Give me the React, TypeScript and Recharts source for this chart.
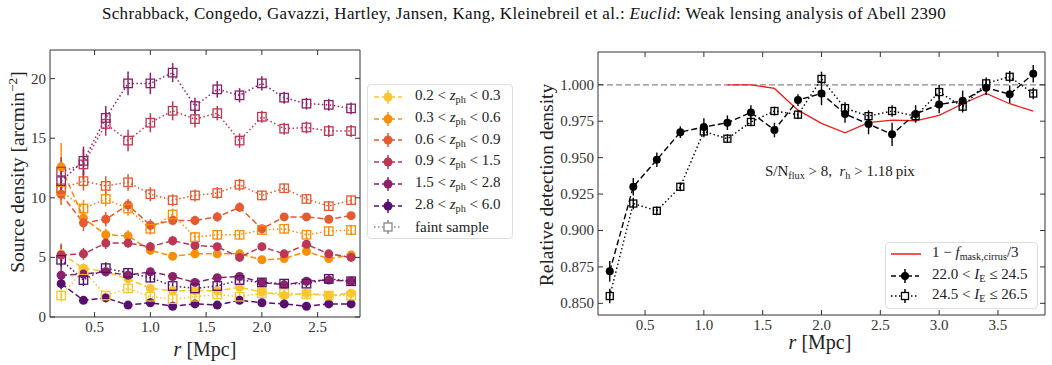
import React from "react";
import { ComposedChart, Line, XAxis, YAxis, ErrorBar, ReferenceLine } from "recharts";

const FONT = "'Liberation Serif', 'DejaVu Serif', serif";
const AXIS = "#333";

// ---- left panel: source density vs radius ----
const rLeft = [0.2, 0.4, 0.6, 0.8, 1.0, 1.2, 1.4, 1.6, 1.8, 2.0, 2.2, 2.4, 2.6, 2.8];
const binEdges = [["0.2", "0.3"], ["0.3", "0.6"], ["0.6", "0.9"], ["0.9", "1.5"], ["1.5", "2.8"], ["2.8", "6.0"]];
const binColors = ["#f9c62f", "#f98e09", "#e45a31", "#bc3754", "#8a226a", "#57106e"];

const bright02 = [5.3, 4.1, 3.8, 3.2, 2.4, 2.2, 2.2, 2.2, 2.5, 2.1, 1.8, 2.0, 1.8, 2.0];
const bright03 = [12.6, 8.3, 6.9, 6.8, 5.6, 5.1, 5.3, 5.3, 5.3, 4.8, 4.9, 5.5, 4.9, 5.2];
const bright06 = [10.3, 7.9, 8.2, 9.4, 7.7, 8.1, 8.1, 8.4, 9.2, 7.4, 8.4, 8.4, 8.2, 8.5];
const bright09 = [5.2, 5.3, 6.2, 6.2, 5.9, 6.4, 6.0, 5.9, 5.0, 5.9, 5.3, 6.1, 5.3, 5.0];
const bright15 = [3.5, 3.6, 3.8, 3.5, 3.8, 3.4, 2.9, 3.3, 3.4, 2.9, 2.7, 3.0, 3.1, 3.0];
const bright28 = [2.8, 1.4, 1.6, 1.0, 1.2, 0.9, 1.1, 1.0, 1.4, 1.2, 1.1, 0.9, 1.1, 1.1];

const brightErr02 = [0.9, 0.4, 0.3, 0.3, 0.2, 0.2, 0.2, 0.2, 0.2, 0.2, 0.2, 0.2, 0.2, 0.2];
const brightErr03 = [2.0, 0.6, 0.5, 0.5, 0.4, 0.3, 0.3, 0.3, 0.3, 0.3, 0.3, 0.3, 0.3, 0.3];
const brightErr06 = [0.9, 0.7, 0.6, 0.5, 0.5, 0.4, 0.4, 0.4, 0.4, 0.3, 0.3, 0.3, 0.3, 0.3];
const brightErr09 = [0.9, 0.5, 0.5, 0.4, 0.4, 0.4, 0.3, 0.3, 0.3, 0.3, 0.3, 0.3, 0.3, 0.3];
const brightErr15 = [0.6, 0.4, 0.4, 0.3, 0.3, 0.3, 0.2, 0.2, 0.2, 0.2, 0.2, 0.2, 0.2, 0.2];
const brightErr28 = [0.5, 0.3, 0.2, 0.2, 0.2, 0.1, 0.1, 0.1, 0.1, 0.1, 0.1, 0.1, 0.1, 0.1];

const faint02 = [1.8, 3.9, 1.8, 2.4, 1.7, 1.5, 1.7, 1.9, 1.7, 2.0, 2.0, 1.9, 1.8, 1.8];
const faint03 = [10.6, 9.1, 9.9, 9.1, 7.4, 8.6, 6.7, 6.9, 6.9, 7.3, 7.4, 6.9, 7.2, 7.3];
const faint06 = [10.8, 11.4, 11.0, 11.3, 10.3, 9.8, 10.2, 10.4, 11.1, 10.2, 10.8, 9.9, 9.3, 9.8];
const faint09 = [12.2, 12.8, 16.2, 14.8, 16.3, 17.3, 16.6, 17.1, 14.8, 16.8, 15.8, 15.9, 15.6, 15.6];
const faint15 = [11.4, 13.1, 16.7, 19.6, 19.6, 20.5, 17.7, 19.1, 18.6, 19.6, 18.4, 17.9, 17.8, 17.5];
const faint28 = [4.8, 3.1, 4.1, 3.7, 3.3, 2.6, 2.4, 2.6, 3.1, 2.9, 2.8, 2.8, 3.2, 3.0];

const faintErr02 = [0.5, 0.4, 0.3, 0.4, 0.3, 0.3, 0.3, 0.3, 0.3, 0.3, 0.3, 0.3, 0.3, 0.3];
const faintErr03 = [1.0, 0.7, 0.6, 0.6, 0.5, 0.5, 0.4, 0.4, 0.4, 0.4, 0.4, 0.4, 0.4, 0.4];
const faintErr06 = [1.0, 0.8, 0.8, 0.7, 0.6, 0.5, 0.5, 0.5, 0.5, 0.4, 0.4, 0.4, 0.4, 0.4];
const faintErr09 = [1.2, 1.3, 1.0, 0.9, 0.8, 0.8, 0.7, 0.6, 0.6, 0.5, 0.5, 0.5, 0.5, 0.5];
const faintErr15 = [1.2, 1.2, 1.0, 1.0, 0.9, 0.8, 0.7, 0.7, 0.6, 0.6, 0.5, 0.5, 0.5, 0.5];
const faintErr28 = [0.7, 0.5, 0.5, 0.4, 0.4, 0.3, 0.3, 0.3, 0.3, 0.3, 0.3, 0.3, 0.3, 0.3];

const leftYTicks = [0, 5, 10, 15, 20];
const leftXTicks = [0.5, 1.0, 1.5, 2.0, 2.5];

// ---- right panel: relative detection density ----
const rRight = [0.2, 0.4, 0.6, 0.8, 1.0, 1.2, 1.4, 1.6, 1.8, 2.0, 2.2, 2.4, 2.6, 2.8, 3.0, 3.2, 3.4, 3.6, 3.8];
const detBright = [0.872, 0.930, 0.9485, 0.9675, 0.971, 0.974, 0.981, 0.969, 0.9895, 0.994, 0.980, 0.973, 0.966, 0.980, 0.9865, 0.989, 0.998, 0.9935, 1.0075];
const detBrightErr = [0.007, 0.006, 0.005, 0.004, 0.006, 0.005, 0.005, 0.005, 0.004, 0.008, 0.006, 0.007, 0.008, 0.006, 0.006, 0.007, 0.005, 0.006, 0.006];
const detFaint = [0.855, 0.9185, 0.9135, 0.930, 0.968, 0.963, 0.9745, 0.982, 0.9795, 1.004, 0.984, 0.9785, 0.982, 0.9785, 0.995, 0.985, 1.001, 1.0055, 0.994];
const detFaintErr = [0.005, 0.004, 0.003, 0.003, 0.004, 0.003, 0.003, 0.003, 0.003, 0.005, 0.004, 0.004, 0.004, 0.004, 0.005, 0.004, 0.004, 0.004, 0.004];
const maskCurve = [null, null, null, null, null, 1.0, 1.0, 0.9975, 0.9826, 0.9735, 0.967, 0.974, 0.9758, 0.9753, 0.979, 0.987, 0.994, 0.987, 0.982];
const rightYTicks = [0.85, 0.875, 0.9, 0.925, 0.95, 0.975, 1.0];
const rightXTicks = [0.5, 1.0, 1.5, 2.0, 2.5, 3.0, 3.5];

type Series = { key: string; values: number[]; errors: number[]; color: string; faint: boolean };

const brightSets = [bright02, bright03, bright06, bright09, bright15, bright28];
const brightErrs = [brightErr02, brightErr03, brightErr06, brightErr09, brightErr15, brightErr28];
const faintSets = [faint02, faint03, faint06, faint09, faint15, faint28];
const faintErrs = [faintErr02, faintErr03, faintErr06, faintErr09, faintErr15, faintErr28];

const leftSeries: Series[] = [];
binColors.forEach((c, i) => {
  leftSeries.push({ key: "b" + i, values: brightSets[i], errors: brightErrs[i], color: c, faint: false });
});
binColors.forEach((c, i) => {
  leftSeries.push({ key: "f" + i, values: faintSets[i], errors: faintErrs[i], color: c, faint: true });
});

const leftRows = rLeft.map((r, i) => {
  const row: Record<string, number> = { r };
  leftSeries.forEach((s) => {
    row[s.key] = s.values[i];
    row[s.key + "e"] = s.errors[i];
  });
  return row;
});

const rightRows = rRight.map((r, i) => ({
  r,
  bright: detBright[i],
  brightE: detBrightErr[i],
  faint: detFaint[i],
  faintE: detFaintErr[i],
  mask: maskCurve[i],
}));

// markers
const circleDot = (color: string, rad: number) => (p: any) =>
  p.cy == null ? <g key={"c" + p.index} /> : <circle key={"c" + p.index} cx={p.cx} cy={p.cy} r={rad} fill={color} stroke="none" />;
const squareDot = (color: string, size: number) => (p: any) =>
  p.cy == null ? (
    <g key={"s" + p.index} />
  ) : (
    <rect key={"s" + p.index} x={p.cx - size / 2} y={p.cy - size / 2} width={size} height={size} fill="none" stroke={color} strokeWidth={1.3} />
  );

// inward ticks
const tickText = { fill: AXIS, fontSize: 15, fontFamily: FONT };
const bottomTick = (fmt: (v: number) => string) => (p: any) => (
  <g>
    <line x1={p.x} y1={p.y} x2={p.x} y2={p.y - 5} stroke={AXIS} />
    <text x={p.x} y={p.y + 15} textAnchor="middle" {...tickText}>{fmt(p.payload.value)}</text>
  </g>
);
const leftTick = (fmt: (v: number) => string) => (p: any) => (
  <g>
    <line x1={p.x} y1={p.y} x2={p.x + 5} y2={p.y} stroke={AXIS} />
    <text x={p.x - 4} y={p.y + 5} textAnchor="end" {...tickText}>{fmt(p.payload.value)}</text>
  </g>
);
const topTick = (p: any) => <line x1={p.x} y1={p.y} x2={p.x} y2={p.y + 5} stroke={AXIS} />;
const rightTick = (p: any) => <line x1={p.x} y1={p.y} x2={p.x - 5} y2={p.y} stroke={AXIS} />;

// four framed axes; left/bottom axes reserve space that the margins already account for
const frameAxes = (xDomain: number[], xTicks: number[], yDomain: number[], yTicks: number[], xFmt: (v: number) => string, yFmt: (v: number) => string) => [
  <XAxis key="xb" dataKey="r" type="number" domain={xDomain} ticks={xTicks} interval={0} allowDataOverflow height={30} tickSize={0} tickMargin={0} tickLine={false} axisLine={{ stroke: AXIS }} tick={bottomTick(xFmt)} />,
  <XAxis key="xt" xAxisId="top" orientation="top" dataKey="r" type="number" domain={xDomain} ticks={xTicks} interval={0} allowDataOverflow height={10} tickSize={0} tickMargin={0} tickLine={false} axisLine={{ stroke: AXIS }} tick={topTick} />,
  <YAxis key="yl" type="number" domain={yDomain} ticks={yTicks} interval={0} allowDataOverflow width={40} tickSize={0} tickMargin={0} tickLine={false} axisLine={{ stroke: AXIS }} tick={leftTick(yFmt)} />,
  <YAxis key="yr" yAxisId="right" orientation="right" type="number" domain={yDomain} ticks={yTicks} interval={0} allowDataOverflow width={5} tickSize={0} tickMargin={0} tickLine={false} axisLine={{ stroke: AXIS }} tick={rightTick} />,
];

const abs = (left: number, top: number, extra: React.CSSProperties = {}): React.CSSProperties => ({
  position: "absolute",
  left,
  top,
  fontFamily: FONT,
  color: "#222",
  whiteSpace: "nowrap",
  lineHeight: 1,
  ...extra,
});
const subStyle: React.CSSProperties = { fontSize: "0.68em", verticalAlign: "-0.3em" };
const supStyle: React.CSSProperties = { fontSize: "0.68em", verticalAlign: "0.5em" };

const LegendMark = ({ color, faint, size }: { color: string; faint: boolean; size: number }) => (
  <svg width={32} height={16} style={{ display: "block" }}>
    <line x1={2} y1={8} x2={30} y2={8} stroke={color} strokeWidth={1.5} strokeDasharray={faint ? "1.5 2.5" : "5 3"} />
    <line x1={16} y1={1} x2={16} y2={15} stroke={color} strokeWidth={1.5} />
    {faint ? (
      <rect x={16 - size / 2} y={8 - size / 2} width={size} height={size} fill="white" stroke={color} strokeWidth={1.3} />
    ) : (
      <circle cx={16} cy={8} r={size / 2} fill={color} />
    )}
  </svg>
);

const ZLabel = ({ lo, hi }: { lo: string; hi: string }) => (
  <span>
    {lo} {"<"} <i>z</i>
    <span style={subStyle}>ph</span> {"<"} {hi}
  </span>
);

export default function App() {
  return (
    <div style={{ position: "absolute", left: 0, top: 0, width: 1052, height: 365, background: "white", overflow: "hidden" }}>
      <div style={abs(0, 5, { width: 1048, textAlign: "center", fontSize: 17, letterSpacing: 0.35, color: "#111" })}>
        Schrabback, Congedo, Gavazzi, Hartley, Jansen, Kang, Kleinebreil et al.: <i>Euclid</i>: Weak lensing analysis of Abell 2390
      </div>

      {/* left panel */}
      <div style={{ position: "absolute", left: 0, top: 0 }}>
        <ComposedChart width={370} height={365} data={leftRows} margin={{ top: 40, right: 5, bottom: 18, left: 10 }}>
          {frameAxes([0.1, 2.88], leftXTicks, [0, 22.4], leftYTicks, (v) => v.toFixed(1), (v) => String(v))}
          {leftSeries.map((s) => (
            <Line
              key={s.key}
              type="linear"
              dataKey={s.key}
              stroke={s.color}
              strokeWidth={1.5}
              strokeDasharray={s.faint ? "1.5 2.5" : "6 3"}
              dot={s.faint ? squareDot(s.color, 8.5) : circleDot(s.color, 4.5)}
              activeDot={false}
              isAnimationActive={false}
            >
              <ErrorBar dataKey={s.key + "e"} direction="y" width={0} stroke={s.color} strokeWidth={1.5} />
            </Line>
          ))}
        </ComposedChart>
      </div>
      <div style={abs(17, 172, { fontSize: 19.5, transform: "translate(-50%, -50%) rotate(-90deg)" })}>
        Source density [arcmin<span style={supStyle}>−2</span>]
      </div>
      <div style={abs(205, 349, { fontSize: 20, transform: "translate(-50%, -50%)" })}>
        <i>r</i> [Mpc]
      </div>

      {/* left legend */}
      <div style={abs(367, 84, { width: 144, height: 153, border: "1px solid #ddd", borderRadius: 4, background: "white", fontSize: 15 })}>
        {binEdges.map((b, i) => (
          <div key={i} style={{ position: "absolute", left: 4, top: 4 + i * 21.7, height: 16, display: "flex", alignItems: "center" }}>
            <LegendMark color={binColors[i]} faint={false} size={9} />
            <span style={{ marginLeft: 11 }}>
              <ZLabel lo={b[0]} hi={b[1]} />
            </span>
          </div>
        ))}
        <div style={{ position: "absolute", left: 4, top: 4 + 6 * 21.7, height: 16, display: "flex", alignItems: "center" }}>
          <LegendMark color="#888" faint={true} size={8} />
          <span style={{ marginLeft: 11 }}>faint sample</span>
        </div>
      </div>

      {/* right panel */}
      <div style={{ position: "absolute", left: 530, top: 0 }}>
        <ComposedChart width={522} height={365} data={rightRows} margin={{ top: 42, right: 2, bottom: 20, left: 28 }}>
          {frameAxes([0.1, 3.9], rightXTicks, [0.842, 1.0225], rightYTicks, (v) => v.toFixed(1), (v) => v.toFixed(3))}
          <ReferenceLine y={1} stroke="#888" strokeDasharray="6 3" strokeWidth={1.2} />
          <Line type="linear" dataKey="mask" stroke="#ee1c1c" strokeWidth={1.3} dot={false} activeDot={false} connectNulls={false} isAnimationActive={false} />
          <Line type="linear" dataKey="bright" stroke="#000" strokeWidth={1.4} strokeDasharray="6 3" dot={circleDot("#000", 4)} activeDot={false} isAnimationActive={false}>
            <ErrorBar dataKey="brightE" direction="y" width={0} stroke="#000" strokeWidth={1.4} />
          </Line>
          <Line type="linear" dataKey="faint" stroke="#000" strokeWidth={1.4} strokeDasharray="1.5 2.5" dot={squareDot("#000", 7)} activeDot={false} isAnimationActive={false}>
            <ErrorBar dataKey="faintE" direction="y" width={0} stroke="#000" strokeWidth={1.4} />
          </Line>
        </ComposedChart>
      </div>
      <div style={abs(547, 185, { fontSize: 19.5, transform: "translate(-50%, -50%) rotate(-90deg)" })}>Relative detection density</div>
      <div style={abs(820, 342, { fontSize: 20, transform: "translate(-50%, -50%)" })}>
        <i>r</i> [Mpc]
      </div>
      <div style={abs(765, 164, { fontSize: 15 })}>
        S/N<span style={subStyle}>flux</span> {">"} 8,&nbsp; <i>r</i>
        <span style={subStyle}>h</span> {">"} 1.18&thinsp;pix
      </div>

      {/* right legend */}
      <div style={abs(885, 242, { width: 151, height: 65, border: "1px solid #ddd", borderRadius: 4, background: "white", fontSize: 15 })}>
        <div style={{ position: "absolute", left: 3, top: 3, height: 16, display: "flex", alignItems: "center" }}>
          <svg width={32} height={16} style={{ display: "block" }}>
            <line x1={2} y1={8} x2={32} y2={8} stroke="#ee1c1c" strokeWidth={1.5} />
          </svg>
          <span style={{ marginLeft: 11 }}>
            1 − <i>f</i>
            <span style={subStyle}>mask,cirrus</span>/3
          </span>
        </div>
        <div style={{ position: "absolute", left: 3, top: 25, height: 16, display: "flex", alignItems: "center" }}>
          <LegendMark color="#000" faint={false} size={8} />
          <span style={{ marginLeft: 11 }}>
            22.0 {"<"} <i>I</i>
            <span style={subStyle}>E</span> ≤ 24.5
          </span>
        </div>
        <div style={{ position: "absolute", left: 3, top: 45, height: 16, display: "flex", alignItems: "center" }}>
          <LegendMark color="#000" faint={true} size={7} />
          <span style={{ marginLeft: 11 }}>
            24.5 {"<"} <i>I</i>
            <span style={subStyle}>E</span> ≤ 26.5
          </span>
        </div>
      </div>
    </div>
  );
}
